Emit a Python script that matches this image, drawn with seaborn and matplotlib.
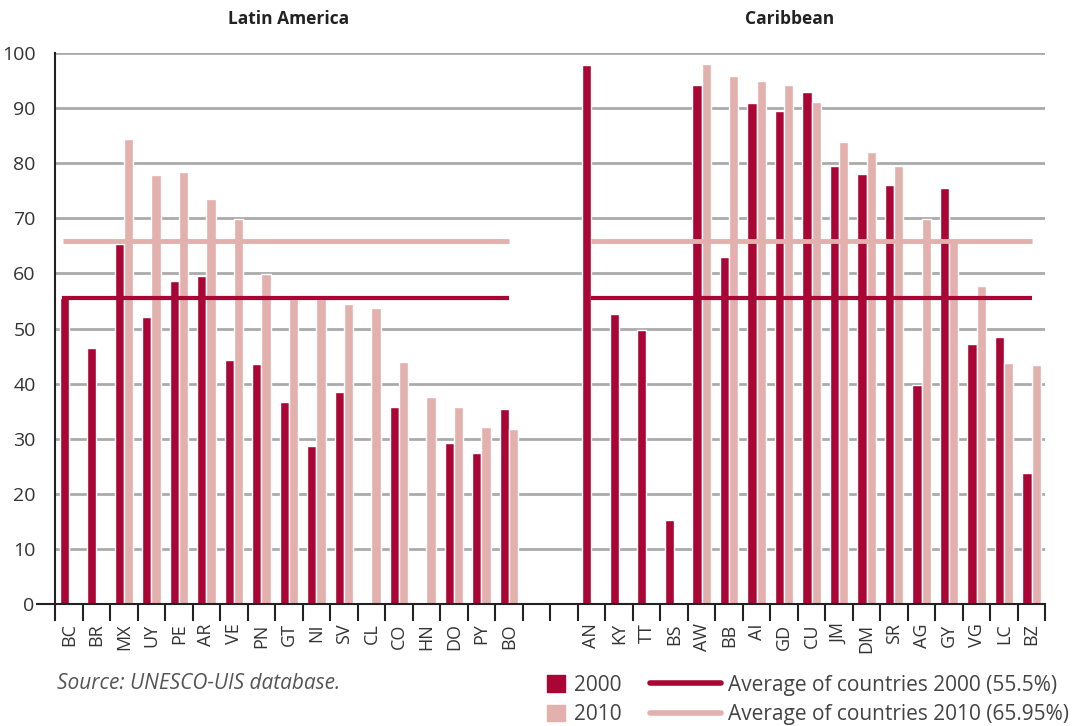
import numpy as np
import pandas as pd
import seaborn as sns
from matplotlib import pyplot as plt
from matplotlib.patches import Patch
from matplotlib.lines import Line2D

# values, nan = no bar
latin = ["BC", "BR", "MX", "UY", "PE", "AR", "VE", "PN", "GT", "NI", "SV", "CL", "CO", "HN", "DO", "PY", "BO"]
latin_2000 = [55.5, 46.5, 65.4, 52.1, 58.6, 59.6, 44.2, 43.5, 36.7, 28.6, 38.5, np.nan, 35.7, np.nan, 29.2, 27.4, 35.4]
latin_2010 = [np.nan, np.nan, 84.4, 77.9, 78.4, 73.5, 69.9, 59.9, 55.4, 55.3, 54.4, 53.7, 44.0, 37.6, 35.7, 32.1, 31.8]

carib = ["AN", "KY", "TT", "BS", "AW", "BB", "AI", "GD", "CU", "JM", "DM", "SR", "AG", "GY", "VG", "LC", "BZ"]
carib_2000 = [97.8, 52.6, 49.7, 15.2, 94.2, 63.0, 90.9, 89.4, 93.0, 79.5, 78.1, 76.0, 39.8, 75.5, 47.1, 48.5, 23.7]
carib_2010 = [np.nan, np.nan, np.nan, np.nan, 98.0, 95.8, 94.9, 94.2, 91.1, 83.9, 82.1, 79.5, 69.9, 66.0, 57.8, 43.8, 43.3]

avg_2000 = 55.5
avg_2010 = 65.95

dark = "#A90636"
pink = "#E2B0AD"

sns.set_style("white")
plt.rcParams["font.family"] = ["Open Sans", "DejaVu Sans"]

rows = []
for names, v0, v1 in [(latin, latin_2000, latin_2010), (carib, carib_2000, carib_2010)]:
    for c, a, b in zip(names, v0, v1):
        rows.append({"country": c, "year": "2000", "value": a})
        rows.append({"country": c, "year": "2010", "value": b})
df = pd.DataFrame(rows).dropna()

order = latin + ["", " "] + carib

fig = plt.figure(figsize=(10.81, 7.26), dpi=100)
ax = fig.add_axes([0.051, 0.168, 0.916, 0.759])

sns.barplot(data=df, x="country", y="value", hue="year", order=order,
            hue_order=["2000", "2010"], palette=[dark, pink], width=0.68,
            gap=0, saturation=1, legend=False, ax=ax)

# average lines, one per group
n = len(latin)
first_car = n + 2
last = len(order) - 1
ax.hlines(avg_2010, -0.2, n - 1, color=pink, lw=3.5, zorder=3)
ax.hlines(avg_2000, -0.25, n - 1, color=dark, lw=3, zorder=3)
ax.hlines(avg_2010, first_car, last, color=pink, lw=3.5, zorder=3)
ax.hlines(avg_2000, first_car, last, color=dark, lw=3, zorder=3)

ax.set_xlim(-0.5, len(order) - 0.5)
ax.set_ylim(0, 100)
ax.set_yticks(range(10, 101, 10))
ax.set_yticks([0], labels=["0"], minor=True)
ax.yaxis.grid(True, which="major", color="#aaaaaa", lw=2)
ax.set_axisbelow(True)
ax.set_xlabel("")
ax.set_ylabel("")

ax.set_xticks(range(len(order)))
ax.set_xticklabels(order, rotation=90, fontsize=13, color="#333333")
ax.tick_params(axis="x", which="major", length=0, pad=14)
ax.set_xticks(np.arange(-0.5, len(order), 1), minor=True)
ax.tick_params(axis="x", which="minor", bottom=True, length=12, width=1.5,
               color="#222222", direction="out")
ax.tick_params(axis="y", which="major", length=0, labelsize=14, labelcolor="#333333", pad=14)
ax.tick_params(axis="y", which="minor", left=True, length=14, width=1.5, color="#222222",
               direction="out", labelsize=14, labelcolor="#333333", pad=1)

for s in ["top", "right"]:
    ax.spines[s].set_visible(False)
for s in ["left", "bottom"]:
    ax.spines[s].set_color("#222222")
    ax.spines[s].set_linewidth(1.5)

ax.text(8, 1.062, "Latin America", transform=ax.get_xaxis_transform(),
        ha="center", va="center", fontsize=12.5, fontweight="bold", color="#222222")
ax.text(26.2, 1.062, "Caribbean", transform=ax.get_xaxis_transform(),
        ha="center", va="center", fontsize=12.5, fontweight="bold", color="#222222")

fig.text(0.053, 0.058, "Source: UNESCO-UIS database.", style="italic",
         fontsize=15, color="#555555", va="center")

bars = [Patch(color=dark, label="2000"), Patch(color=pink, label="2010")]
lines = [Line2D([], [], color=dark, lw=4, label="Average of countries 2000 (55.5%)"),
         Line2D([], [], color=pink, lw=4, label="Average of countries 2010 (65.95%)")]
fig.legend(handles=bars, loc="center left", bbox_to_anchor=(0.506, 0.036),
           frameon=False, fontsize=15, handlelength=0.85, handleheight=0.85,
           labelspacing=0.4, handletextpad=0.45, borderpad=0,
           borderaxespad=0, labelcolor="#444444")
fig.legend(handles=lines, loc="center left", bbox_to_anchor=(0.601, 0.036),
           frameon=False, fontsize=15, handlelength=3.4,
           labelspacing=0.4, handletextpad=0.35, borderpad=0,
           borderaxespad=0, labelcolor="#444444")

fig.savefig("out.png", dpi=100)
